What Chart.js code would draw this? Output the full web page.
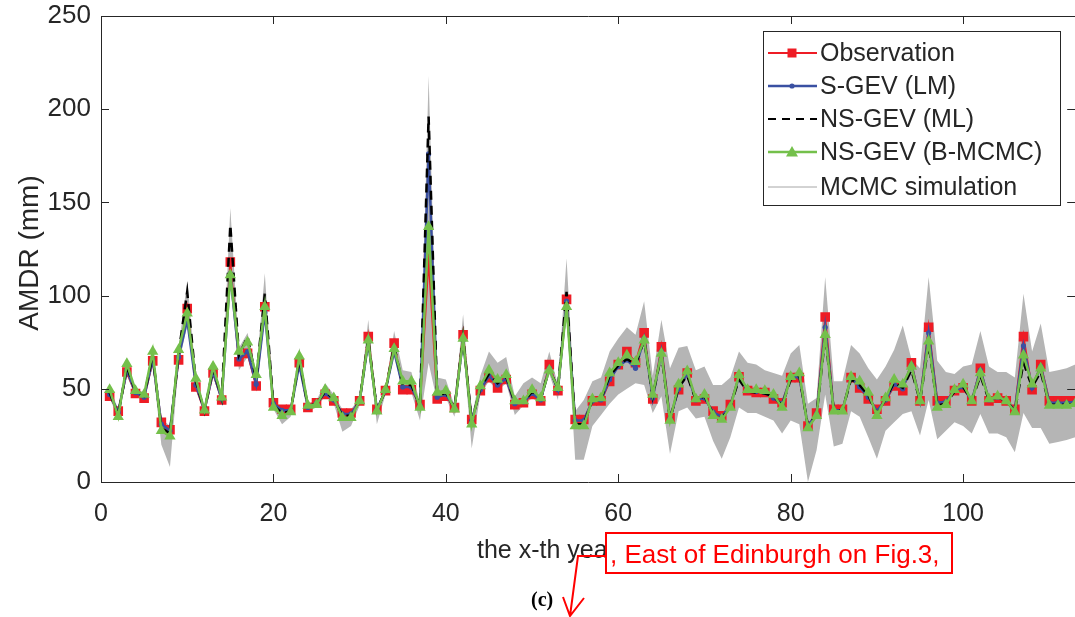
<!DOCTYPE html>
<html>
<head>
<meta charset="utf-8">
<script src="https://cdn.jsdelivr.net/npm/chart.js@4.4.1/dist/chart.umd.min.js"></script>
<style>
  html, body { margin: 0; padding: 0; background: #fff; overflow: hidden; }
  #wrap { width: 1075px; height: 617px; overflow: hidden; }
</style>
</head>
<body>
<div id="wrap"><canvas id="amdrChart" width="1082" height="617"></canvas></div>
<script>
// years 1..113
const years = Array.from({ length: 113 }, (_, i) => i + 1);

const observation = [
  46, 38, 59, 47.5, 45, 65, 32, 28, 65.5, 93,
  51, 38, 58.5, 44, 118, 64.5, 69, 51.5, 94, 42.5,
  39, 39, 64, 40, 42.5, 47, 43.5, 37, 37, 43.5,
  78, 39, 49, 74.5, 49.5, 49.5, 41.5, 120, 44.5, 46,
  40, 79, 33.5, 49, 56, 50.5, 55, 41.5, 42.5, 47,
  43.5, 63, 49, 98, 33.5, 33.5, 43.5, 43.5, 54, 63,
  70, 64, 80, 44.5, 72.5, 34.5, 49.5, 58.5, 43.5, 44.5,
  38, 35.5, 41.5, 56.5, 49, 48, 48, 44.5, 42.5, 56,
  56, 30, 37, 88.5, 39, 39, 56, 50.5, 44.5, 39,
  43.5, 51.5, 49, 64, 43.5, 83, 43.5, 43.5, 49, 50.5,
  43.5, 61, 43.5, 45, 43.5, 39, 78, 49.5, 63, 43.5,
  43.5, 43.5, 43.5
];

const sGevLM = [
  47, 37.5, 60, 48, 45.5, 66, 31, 27.5, 67, 87,
  52, 38.5, 59, 44.5, 112, 66, 70, 52.5, 91, 42,
  38.5, 38.5, 63, 40, 42.5, 47.5, 44, 36.5, 36.5, 43.5,
  75, 39, 49, 70, 51, 51, 41, 176, 45.5, 47,
  40, 76, 33, 49.5, 57, 52, 55.5, 42, 43, 47.5,
  44, 61, 49.5, 97, 33, 33, 43.5, 44, 55, 62,
  65.5, 61, 77, 45, 70, 34, 50, 58, 44, 45,
  37.5, 35, 41, 56.5, 49, 48.5, 48, 45, 42, 56,
  56.5, 30, 36.5, 83, 38.5, 38.5, 56, 51, 45.5, 38,
  44, 52.5, 50, 63, 43.5, 80, 42.5, 43, 49, 51,
  43.5, 60, 44, 45.5, 43.5, 38.5, 73, 50.5, 62, 42.5,
  42.5, 42.5, 43
];

const nsGevML = [
  48, 36, 62, 48.5, 46, 68, 29, 26, 69, 102,
  54, 38, 61, 45, 138, 68, 78, 55, 101, 41,
  37, 38, 66, 40.5, 42, 48.5, 44.5, 35.5, 35.5, 43.5,
  77, 38.5, 49, 73, 52, 52, 40.5, 196, 46, 48,
  39.5, 78, 32, 50.5, 58, 53, 56.5, 42.5, 43, 48.5,
  44.5, 61, 50, 102, 31, 31, 44, 44.5, 57, 62.5,
  66, 63, 76, 46, 68.5, 33.5, 51, 57, 44, 46,
  36.5, 34, 40.5, 55, 48.5, 48, 47.5, 46, 41, 55,
  57, 30, 36, 78, 38.5, 38.5, 55, 52, 46.5, 36.5,
  44.5, 53.5, 50.5, 60, 43.5, 74, 41, 42, 48.5, 51,
  43.5, 57, 44, 45.5, 43.5, 38, 64, 51, 59, 41.5,
  41.5, 41.5, 42
];

const nsGevBMCMC = [
  49.5, 35, 63.5, 49, 47, 70, 27.5, 24.5, 71, 90.5,
  55.5, 38.5, 62, 45.5, 111, 70, 75, 57.5, 94, 40,
  35.5, 37.5, 67.5, 41, 41.5, 49.5, 45, 34.5, 34.5, 43.5,
  76, 38, 49.5, 71.5, 54, 54, 40, 137, 48, 49,
  39, 77, 31, 51.5, 60, 55, 57.5, 43.5, 43.5, 49.5,
  45, 60, 50.5, 94, 30, 30, 44.5, 45, 58.5, 64,
  68, 64.5, 76, 47, 69, 33, 52.5, 59.5, 44.5, 47,
  35.5, 33.5, 40, 57.5, 49.5, 49.5, 49, 47, 40, 56.5,
  58.5, 29, 35.5, 79, 38, 38, 56.5, 54, 48, 35.5,
  45, 55, 52.5, 62, 43.5, 75.5, 40, 41.5, 49.5, 52.5,
  43.5, 58.5, 44.5, 46, 43.5, 37.5, 68, 52.5, 61, 41,
  41, 41, 42
];

// envelope of the MCMC simulations
const mcmcUpper = [
  51, 39, 64, 50, 48, 71, 34, 30, 72, 108,
  57, 40, 63, 47, 147, 72, 80, 59, 112, 43,
  40, 40, 72, 42, 44, 53, 47, 39, 39, 45,
  87, 40, 51, 81, 60, 59, 43, 218, 56, 55,
  41, 90, 35, 57, 70, 64, 67, 46, 53, 56,
  53, 70, 52, 120, 38, 44, 54, 56, 70, 77,
  83, 79, 97, 57, 87, 61, 72, 73, 60, 62,
  52, 52, 56, 70, 64, 63, 60, 58.5, 57, 69,
  73.5, 42, 45, 110, 54, 54, 73.5, 69, 61, 55,
  62, 71, 84, 66, 61, 110, 65, 59, 58, 62,
  63, 81, 62, 59, 59, 56, 101, 70, 85, 59,
  60, 61, 63
];

const mcmcLower = [
  45, 34, 57, 46, 44, 62, 20, 8, 63, 84,
  50, 37, 57, 43, 105, 60, 67, 50, 88, 39,
  31, 35, 62, 38, 40, 46, 42, 27, 30, 41,
  72, 31, 47, 68, 48, 48, 33, 64, 43, 45,
  35, 72, 18, 47, 54, 49, 53, 36, 41, 45,
  42, 58, 44, 90, 12, 12, 30, 36, 42, 47,
  50, 53, 52, 37, 46, 15, 38, 40, 34, 35,
  22, 12.5, 24, 40, 37, 37, 35, 33, 26, 33,
  31, 0, 17, 47, 19, 20.5, 38, 35, 24, 12.5,
  27.5, 32, 36.5, 38, 25, 44, 23, 27.5, 32, 30,
  26, 36.5, 26, 26, 24, 16, 37, 29, 29, 20.5,
  21.5, 22.5, 24
];

const xTicks = [0, 20, 40, 60, 80, 100];
const yTicks = [0, 50, 100, 150, 200, 250];

const RED = '#ee1c25';
const BLUE = '#3a50a2';
const BLACK = '#000000';
const GREEN = '#74c04b';
const GREY_FILL = '#b5b5b5';
const AXIS = '#262626';
const FONT = '"Liberation Sans", Arial, Helvetica, sans-serif';

const toPoints = (vals) => years.map((x, i) => ({ x: x, y: vals[i] }));

const legendItems = [
  { text: 'Observation', color: RED, width: 2, dash: [], marker: 'rect' },
  { text: 'S-GEV (LM)', color: BLUE, width: 2.5, dash: [], marker: 'circle' },
  { text: 'NS-GEV (ML)', color: BLACK, width: 2, dash: [8, 6], marker: null },
  { text: 'NS-GEV (B-MCMC)', color: GREEN, width: 2.5, dash: [], marker: 'triangle' },
  { text: 'MCMC simulation', color: '#a6a6a6', width: 1, dash: [], marker: null }
];

function drawMarker(ctx, type, x, y, color) {
  ctx.save();
  ctx.fillStyle = color;
  ctx.beginPath();
  if (type === 'rect') {
    ctx.rect(x - 4.5, y - 4.5, 9, 9);
  } else if (type === 'circle') {
    ctx.arc(x, y, 2.6, 0, Math.PI * 2);
  } else if (type === 'triangle') {
    ctx.moveTo(x, y - 6);
    ctx.lineTo(x + 6, y + 4.5);
    ctx.lineTo(x - 6, y + 4.5);
    ctx.closePath();
  }
  ctx.fill();
  ctx.restore();
}

const matlabFrame = {
  id: 'matlabFrame',
  afterDraw(chart) {
    const { ctx, chartArea: { left, right, top, bottom }, scales: { x, y } } = chart;
    ctx.save();
    ctx.strokeStyle = AXIS;
    ctx.lineWidth = 1;
    ctx.beginPath();
    ctx.rect(left + 0.5, top + 0.5, right - left, bottom - top);
    xTicks.forEach(v => {
      const px = Math.round(x.getPixelForValue(v)) + 0.5;
      ctx.moveTo(px, bottom); ctx.lineTo(px, bottom - 8);
      ctx.moveTo(px, top); ctx.lineTo(px, top + 8);
    });
    yTicks.forEach(v => {
      const py = Math.round(y.getPixelForValue(v)) + 0.5;
      ctx.moveTo(left, py); ctx.lineTo(left + 8, py);
      ctx.moveTo(right, py); ctx.lineTo(right - 8, py);
    });
    ctx.stroke();

    // axis titles
    ctx.fillStyle = AXIS;
    ctx.font = '25px ' + FONT;
    ctx.textAlign = 'left';
    ctx.textBaseline = 'alphabetic';
    ctx.fillText('the x-th year', 477, 558);

    ctx.save();
    ctx.translate(38, 253);
    ctx.rotate(-Math.PI / 2);
    ctx.textAlign = 'center';
    ctx.font = '28px ' + FONT;
    ctx.fillText('AMDR (mm)', 0, 0);
    ctx.restore();

    // legend
    const lx = 763, ly = 31, lw = 297, lh = 174;
    ctx.fillStyle = '#ffffff';
    ctx.fillRect(lx, ly, lw, lh);
    ctx.strokeStyle = AXIS;
    ctx.lineWidth = 1;
    ctx.strokeRect(lx + 0.5, ly + 0.5, lw, lh);
    const rows = [53, 86, 119, 152, 187];
    ctx.font = '25px ' + FONT;
    ctx.textBaseline = 'middle';
    legendItems.forEach((item, i) => {
      const ry = rows[i];
      ctx.save();
      ctx.strokeStyle = item.color;
      ctx.lineWidth = item.width;
      ctx.setLineDash(item.dash);
      ctx.beginPath();
      ctx.moveTo(768, ry);
      ctx.lineTo(817, ry);
      ctx.stroke();
      ctx.restore();
      if (item.marker) drawMarker(ctx, item.marker, 792, ry, item.color);
      ctx.fillStyle = AXIS;
      ctx.textAlign = 'left';
      ctx.fillText(item.text, 820, ry + 1);
    });

    // red annotation box and arrow
    ctx.fillStyle = '#ffffff';
    ctx.fillRect(606, 533, 346, 40);
    ctx.strokeStyle = '#ff0000';
    ctx.lineWidth = 2;
    ctx.strokeRect(606, 533, 346, 40);
    ctx.fillStyle = '#ff0000';
    ctx.font = '26px ' + FONT;
    ctx.textBaseline = 'alphabetic';
    ctx.fillText(', East of Edinburgh on Fig.3,', 610, 563);
    ctx.beginPath();
    ctx.moveTo(606, 556);
    ctx.lineTo(578, 556);
    ctx.lineTo(570, 616);
    ctx.moveTo(563, 597);
    ctx.lineTo(570, 616);
    ctx.lineTo(584, 598);
    ctx.stroke();

    ctx.fillStyle = '#000000';
    ctx.font = 'bold 20px "Liberation Serif", "Times New Roman", serif';
    ctx.fillText('(c)', 531, 606);
    ctx.restore();
  }
};

const ctx = document.getElementById('amdrChart').getContext('2d');

const config = {
  type: 'line',
  data: {
    datasets: [
      {
        label: 'NS-GEV (B-MCMC)',
        data: toPoints(nsGevBMCMC),
        borderColor: GREEN,
        backgroundColor: GREEN,
        borderWidth: 2.5,
        pointStyle: 'triangle',
        pointRadius: 6.5,
        pointBorderWidth: 0,
        fill: false,
        tension: 0
      },
      {
        label: 'NS-GEV (ML)',
        data: toPoints(nsGevML),
        borderColor: BLACK,
        borderWidth: 2.5,
        borderDash: [9, 6],
        pointRadius: 0,
        fill: false,
        tension: 0
      },
      {
        label: 'S-GEV (LM)',
        data: toPoints(sGevLM),
        borderColor: BLUE,
        backgroundColor: BLUE,
        borderWidth: 2.5,
        pointStyle: 'circle',
        pointRadius: 2.6,
        pointBorderWidth: 0,
        fill: false,
        tension: 0
      },
      {
        label: 'Observation',
        data: toPoints(observation),
        borderColor: RED,
        backgroundColor: RED,
        borderWidth: 2,
        pointStyle: 'rect',
        pointRadius: 6.8,
        pointBorderWidth: 0,
        fill: false,
        tension: 0
      },
      {
        label: 'MCMC lower',
        data: toPoints(mcmcLower),
        borderColor: GREY_FILL,
        borderWidth: 0,
        pointRadius: 0,
        fill: false,
        tension: 0
      },
      {
        label: 'MCMC simulation',
        data: toPoints(mcmcUpper),
        borderColor: GREY_FILL,
        backgroundColor: GREY_FILL,
        borderWidth: 0,
        pointRadius: 0,
        fill: '-1',
        tension: 0
      }
    ]
  },
  options: {
    responsive: false,
    animation: false,
    layout: { padding: { top: 16, left: 0, right: 0, bottom: 0 } },
    scales: {
      x: {
        type: 'linear',
        min: 0,
        max: 113,
        grid: { display: false, drawTicks: false },
        border: { display: false },
        afterFit: (scale) => {
          scale.height = 135;
          scale.paddingLeft = 0;
          scale.paddingRight = 0;
        },
        afterBuildTicks: (scale) => { scale.ticks = xTicks.map(v => ({ value: v })); },
        ticks: {
          autoSkip: false,
          maxRotation: 0,
          padding: 17,
          color: AXIS,
          font: { family: FONT, size: 25 }
        }
      },
      y: {
        min: 0,
        max: 250,
        grid: { display: false, drawTicks: false },
        border: { display: false },
        afterFit: (scale) => {
          scale.width = 101;
          scale.paddingTop = 0;
          scale.paddingBottom = 0;
        },
        afterBuildTicks: (scale) => { scale.ticks = yTicks.map(v => ({ value: v })); },
        ticks: {
          padding: 10,
          color: AXIS,
          font: { family: FONT, size: 26 }
        }
      }
    },
    plugins: {
      legend: { display: false },
      tooltip: { enabled: false },
      filler: { propagate: false }
    }
  },
  plugins: [matlabFrame]
};

new Chart(ctx, config);
</script>
</body>
</html>
